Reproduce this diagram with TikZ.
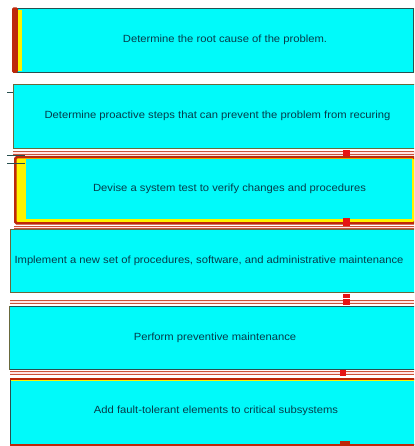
\documentclass[tikz,border=0pt]{standalone}
\usepackage{fontspec}
\setmainfont{Liberation Sans}[FakeStretch=1.08]
\usetikzlibrary{calc}

\definecolor{boxcyan}{RGB}{0,250,250}
\definecolor{edgeteal}{RGB}{40,80,80}
\definecolor{edgeolive}{RGB}{105,105,60}
\definecolor{framered}{RGB}{190,40,10}
\definecolor{knobred}{RGB}{230,20,20}
\definecolor{txtteal}{RGB}{5,60,75}
\definecolor{limeedge}{RGB}{200,240,90}

\begin{document}
\begin{tikzpicture}[x=1pt,y=-1pt,
    stepbox/.style={draw=edgeteal,fill=boxcyan,line width=1pt,inner sep=0pt,
                    anchor=north west,minimum width=#1,minimum height=64pt},
    lbl/.style={text=txtteal,font=\fontsize{10.4}{12}\selectfont,inner sep=0pt},
    rail/.style={draw=framered!80,double=white!90!red,double distance=1.4pt,line width=1pt},
    knob/.style={fill=knobred},
    tick/.style={draw=edgeteal,line width=0.8pt}]
	\useasboundingbox (0,0) rectangle (414,446);
	\clip (0,0) rectangle (414,446);
	\fill[white] (0,0) rectangle (414,446);

	% step 1
	\node[stepbox=400pt] (b1) at (13,8) {};
	\draw[limeedge,line width=1pt] (b1.north east) -- (b1.south east);
	\fill[framered,rounded corners=1.5pt] (12,7.5) rectangle (18,73);
	\fill[yellow] (17.5,10) rectangle (22,71);
	\node[lbl] (t1) at (225,40) {Determine the root cause of the problem.};

	% step 2
	\node[stepbox=420pt,draw=edgeolive] (b2) at (13,84) {};
	\draw[tick] (7,92) -- (b2.west |- 0,92);
	\draw[rail] ($(b2.south west)+(0,4)$) -- ++(420,0);
	\fill[knob] ($(b2.south west)+(330,1)$) rectangle ++(7,6);
	\node[lbl] (t2) at (217.5,116) {Determine proactive steps that can prevent the problem from recuring};

	% step 3
	\node[stepbox=400pt,fill=yellow,draw=framered,line width=2.5pt,
	      minimum height=66pt,rounded corners=1.5pt] (b3) at (14,156) {};
	\fill[boxcyan] (26,159.5) rectangle (411.5,218.5);
	\draw[tick] (7,155) -- (25,155);
	\draw[tick] (7,163) -- (25,163);
	\fill[knob] (343,218) rectangle (350,226);
	\draw[rail] (b3.south west) ++(0,3) -- ++(420,0);
	\node[lbl] (t3) at (229.5,189) {Devise a system test to verify changes and procedures};

	% step 4
	\node[stepbox=420pt,draw=edgeolive,minimum height=63pt] (b4) at (10,229) {};
	\fill[knob] (343,293.5) rectangle (350,298);
	\draw[rail] (10,302) -- (414,302);
	\fill[knob] (343,299) rectangle (350,305);
	\node[lbl] (t4) at (209,261) {Implement a new set of procedures, software, and administrative maintenance};

	% step 5
	\node[stepbox=420pt,minimum height=63pt] (b5) at (9,306) {};
	\draw[edgeolive,line width=1pt] (b5.north west) -- (b5.south west);
	\draw[rail] (10,373) -- (414,373);
	\fill[knob] (340,370) rectangle (346,376);
	\node[lbl] (t5) at (215,338) {Perform preventive maintenance};

	% step 6
	\node[stepbox=420pt,minimum height=65pt] (b6) at (10,379) {};
	\draw[framered,line width=2.2pt] (b6.north west) -- (b6.north east);
	\draw[yellow,line width=0.6pt] ($(b6.north west)+(1,1.6)$) -- ($(b6.north east)+(0,1.6)$);
	\draw[framered,line width=2pt] (b6.south west) -- (b6.south east);
	\fill[framered] (340,441) rectangle (350,446);
	\node[lbl] (t6) at (216,411) {Add fault-tolerant elements to critical subsystems};
\end{tikzpicture}
\end{document}
